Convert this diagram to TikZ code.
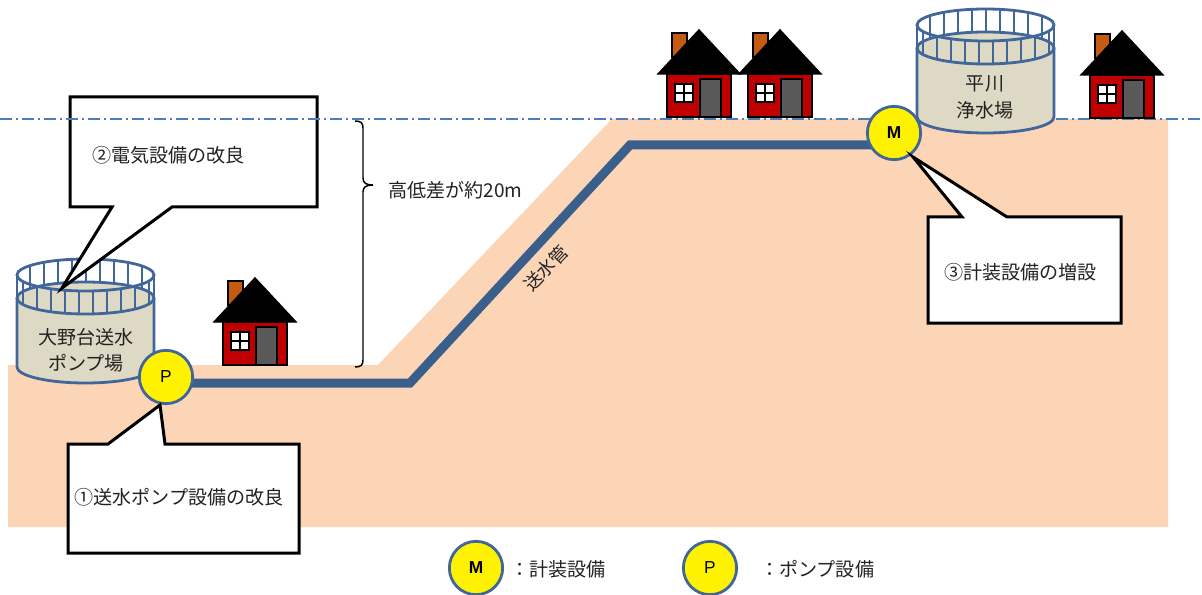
\documentclass[tikz,border=0pt]{standalone}
\usepackage{fontspec}
\usetikzlibrary{backgrounds}
\newfontfamily\jp{Noto Sans CJK JP}
\newfontfamily\lat{Liberation Sans}
\definecolor{groundc}{HTML}{FBD5B5}
\definecolor{pipec}{HTML}{3A5F8B}
\definecolor{rimc}{HTML}{41679A}
\definecolor{tankc}{HTML}{DDD9C4}
\definecolor{levelc}{HTML}{4A7EBB}
\definecolor{wallc}{HTML}{C00000}
\definecolor{chimc}{HTML}{C55A11}
\definecolor{doorc}{HTML}{595959}
\definecolor{txtc}{HTML}{222222}
\tikzset{
  pipe/.style={draw=pipec,line width=6.75pt,line join=miter},
  rim/.style={draw=rimc,line width=2.1pt},
  post/.style={draw=rimc,line width=1.1pt},
  callout/.style={draw=black,fill=white,line width=2.25pt,line join=miter},
  lbl/.style={inner sep=0pt,font=\jp\fontsize{14.3pt}{17pt}\selectfont,text=txtc},
  gauge/.style={circle,draw=rimc,fill=yellow,line width=2.1pt,minimum size=40pt,inner sep=0pt,
    font=\lat\fontsize{13pt}{15pt}\selectfont},
  gaugeM/.style={gauge,font=\lat\bfseries\fontsize{13pt}{15pt}\selectfont},
  hline/.style={draw=black,line width=1.1pt},
}
% cylindrical tank with a railing ring; origin = top-left of the ring
\newcommand\tankshape[1]{%
  \begin{scope}[shift={#1}]
    \fill[tankc] (0,41) -- (0,110) arc[start angle=180,end angle=360,x radius=51.375pt,y radius=12pt] -- (137,41) -- cycle;
    \fill[tankc] (68.5,41) ellipse[x radius=51.375pt,y radius=12pt];
    \draw[rim] (0,41) -- (0,110) arc[start angle=180,end angle=360,x radius=51.375pt,y radius=12pt] -- (137,41);
    \draw[rim] (68.5,41) ellipse[x radius=51.375pt,y radius=12pt];
    \foreach \dx in {13,27,...,125}{%
      \pgfmathsetmacro\hh{16*sqrt(1-((\dx-68.5)/68.5)^2)}
      \draw[post] (\dx,18-\hh) -- (\dx,41-\hh);}
    \foreach \dx in {6,20,...,132}{%
      \pgfmathsetmacro\hh{16*sqrt(1-((\dx-68.5)/68.5)^2)}
      \draw[post] (\dx,18+\hh) -- (\dx,41+\hh);}
    \draw[post] (0,18) -- (0,41);
    \draw[post] (137,18) -- (137,41);
    \draw[rim] (68.5,18) ellipse[x radius=51.375pt,y radius=12pt];
  \end{scope}}
% small house; origin = centre of its base
\newcommand\houseshape[1]{%
  \begin{scope}[shift={#1}]
    \draw[hline,fill=chimc] (-27,-60) rectangle (-12,-84);
    \draw[hline,fill=black] (-41,-43) -- (0,-87) -- (41,-43) -- cycle;
    \draw[hline,fill=wallc] (-32,-43) rectangle (32,0);
    \draw[draw=black,line width=1.6pt,fill=white] (-24,-33) rectangle (-6,-15);
    \draw[hline] (-15,-33) -- (-15,-15) (-24,-24) -- (-6,-24);
    \draw[hline,fill=doorc] (1,-38) rectangle (22,0);
  \end{scope}}
\begin{document}
\begin{tikzpicture}[x=0.75pt,y=-0.75pt]
\useasboundingbox (0,0) rectangle (1202,595);
% lower tank and its pump
\tankshape{(17,257)}
\node[lbl] (t1a) at (86,337) {大野台送水};
\node[lbl] (t1b) at (86,363) {ポンプ場};
\node[gauge] (P) at (166,377) {P};
% callout 2
\draw[callout] (70,97) -- (317,97) -- (317,207) -- (172,207) -- (62,288) -- (112,207) -- (70,207) -- cycle;
\node[lbl,anchor=west] (c2) at (92,155) {②電気設備の改良};
% level line
\draw[levelc,line width=1.3pt,dash pattern=on 9pt off 3pt on 1.5pt off 3pt] (0,119) -- (1202,119);
% upper tank and its meter
\tankshape{(917,7)}
\node[lbl] (t2a) at (985,84) {平川};
\node[lbl] (t2b) at (985,110) {浄水場};
\node[gaugeM] (M) at (894,133) {M};
% ground and transmission main, behind everything
\coordinate (b1) at (410,383);
\coordinate (b2) at (630,145);
\begin{pgfonlayer}{background}
  \fill[groundc] (8,365) -- (378,365) -- (612,119) -- (1168,119) -- (1168,527) -- (8,527) -- cycle;
  \draw[pipe] (P.center |- b1) -- (b1) -- (b2) -- (M.center |- b2);
\end{pgfonlayer}
\node[lbl,rotate=47,font=\jp\fontsize{13.5pt}{15pt}\selectfont] (pipelbl) at (546,268) {送水管};
% houses
\houseshape{(255,365)}
\houseshape{(699,117)}
\houseshape{(780,117)}
\houseshape{(1122,118)}
% height difference brace
\draw[black,line width=1.1pt] (355,121) .. controls (361,121) and (363,123) .. (363,128) -- (363,178)
  .. controls (363,183) and (366,185) .. (373,185) .. controls (366,185) and (363,187) .. (363,192)
  -- (363,360) .. controls (363,365) and (361,367) .. (355,367);
\node[lbl,anchor=west] (hd) at (388,190) {高低差が約20m};
% callouts 1 and 3
\draw[callout] (68,444) -- (108,444) -- (160,405) -- (165,444) -- (299,444) -- (299,553) -- (68,553) -- cycle;
\node[lbl,anchor=west] (c1) at (74,497) {①送水ポンプ設備の改良};
\draw[callout] (928,217) -- (962,217) -- (913,157) -- (1007,217) -- (1121,217) -- (1121,323) -- (928,323) -- cycle;
\node[lbl,anchor=west] (c3) at (944,272) {③計装設備の増設};
% legend
\node[gaugeM] (lm) at (476,568) {M};
\node[lbl,anchor=west] (lmt) at (510,569) {：計装設備};
\node[gauge] (lp) at (710,568) {P};
\node[lbl,anchor=west] (lpt) at (760,569) {：ポンプ設備};
\end{tikzpicture}
\end{document}
